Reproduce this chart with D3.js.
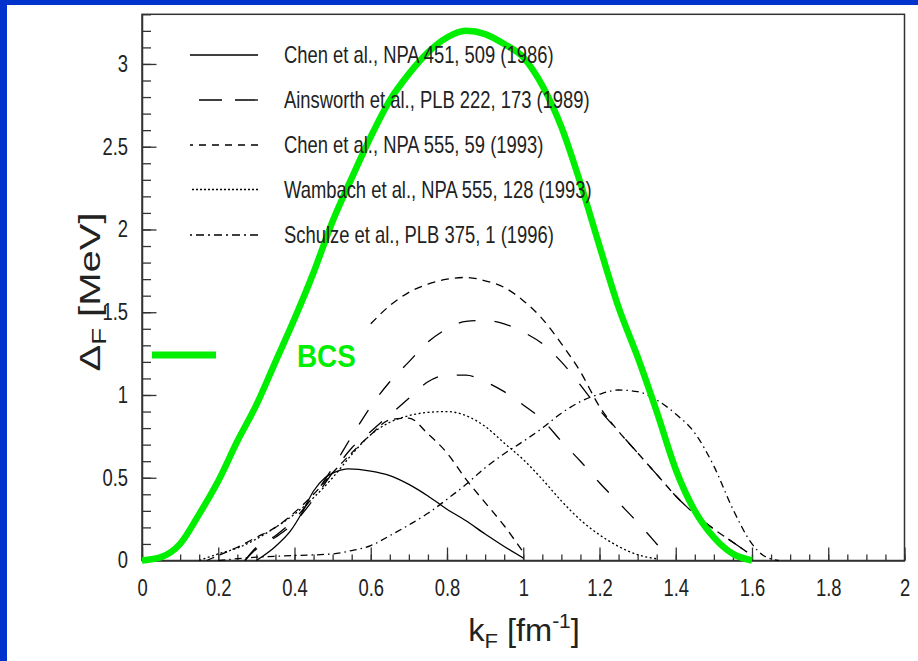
<!DOCTYPE html>
<html><head><meta charset="utf-8">
<script src="https://cdn.jsdelivr.net/npm/d3@7"></script>
<style>html,body{margin:0;padding:0;background:#fff;overflow:hidden}</style>
</head><body><svg id="c" width="918" height="661"></svg>
<script>
// ---- data ----
const xTickValues = [0,0.2,0.4,0.6,0.8,1,1.2,1.4,1.6,1.8,2];
const xTickLabels = ["0","0.2","0.4","0.6","0.8","1","1.2","1.4","1.6","1.8","2"];
const yTickValues = [0,0.5,1,1.5,2,2.5,3];
const yTickLabels = ["0","0.5","1","1.5","2","2.5","3"];
const legendLabels = [
  "Chen et al., NPA 451, 509 (1986)",
  "Ainsworth et al., PLB 222, 173 (1989)",
  "Chen et al., NPA 555, 59 (1993)",
  "Wambach et al., NPA 555, 128 (1993)",
  "Schulze et al., PLB 375, 1 (1996)"
];
const bcsLabel = "BCS";

const bcsK = [0,0.05,0.1,0.15,0.2,0.25,0.3,0.35,0.4,0.45,0.5,0.55,0.6,0.65,0.7,0.75,0.8,0.85,0.9,0.95,1.0,1.05,1.1,1.15,1.2,1.25,1.3,1.35,1.4,1.45,1.5,1.55,1.6];
const bcsD = [0,0.02,0.1,0.28,0.48,0.72,0.94,1.2,1.46,1.74,2.05,2.31,2.56,2.78,2.94,3.07,3.16,3.2,3.18,3.12,3.04,2.87,2.62,2.28,1.9,1.53,1.23,0.9,0.55,0.3,0.14,0.04,0];

const chen86K = [0.30,0.35,0.39,0.42,0.45,0.48,0.51,0.54,0.6,0.65,0.7,0.75,0.8,0.85,0.9,0.95,1.0];
const chen86D = [0,0.085,0.18,0.29,0.42,0.5,0.537,0.553,0.54,0.513,0.46,0.39,0.31,0.24,0.16,0.085,0.015];

const ainsAK = [0.27,0.3,0.35,0.4,0.45,0.5,0.55,0.6,0.65,0.7,0.75,0.8,0.85,0.9,0.95,1.0,1.05,1.1,1.15,1.2,1.25,1.3,1.35,1.4,1.45,1.5,1.55,1.6];
const ainsAD = [0,0.08,0.15,0.25,0.39,0.56,0.75,0.93,1.08,1.2,1.32,1.40,1.445,1.45,1.43,1.38,1.31,1.2,1.06,0.91,0.78,0.65,0.52,0.39,0.28,0.19,0.11,0.03];

const ainsBK = [0.27,0.3,0.35,0.4,0.45,0.5,0.55,0.6,0.65,0.7,0.75,0.8,0.85,0.9,0.95,1.0,1.05,1.1,1.15,1.2,1.25,1.3,1.35,1.38];
const ainsBD = [0,0.07,0.14,0.23,0.37,0.53,0.68,0.78,0.88,0.98,1.08,1.12,1.12,1.08,1.02,0.94,0.85,0.72,0.6,0.47,0.35,0.23,0.1,0.02];

const chen93AK = [0.6,0.65,0.7,0.75,0.8,0.85,0.9,0.95,1.0,1.05,1.1,1.15,1.2,1.25,1.3,1.35,1.4,1.45,1.5,1.55,1.6];
const chen93AD = [1.43,1.54,1.62,1.67,1.70,1.71,1.69,1.65,1.57,1.46,1.31,1.14,0.93,0.78,0.65,0.52,0.39,0.28,0.19,0.11,0.03];

const chen93BK = [0.17,0.2,0.25,0.3,0.35,0.4,0.45,0.5,0.55,0.6,0.65,0.7,0.75,0.8,0.85,0.9,0.95,1.0];
const chen93BD = [0,0.03,0.08,0.14,0.2,0.29,0.4,0.53,0.65,0.76,0.85,0.86,0.765,0.65,0.49,0.35,0.21,0.05];

const wambK = [0.15,0.2,0.25,0.3,0.35,0.4,0.45,0.5,0.55,0.6,0.65,0.7,0.75,0.8,0.85,0.9,0.95,1.0,1.05,1.1,1.15,1.2,1.25,1.3,1.35];
const wambD = [0,0.04,0.075,0.13,0.2,0.28,0.38,0.5,0.64,0.76,0.835,0.875,0.895,0.9,0.875,0.81,0.71,0.61,0.49,0.36,0.245,0.155,0.085,0.035,0.01];

const schK = [0.2,0.3,0.4,0.5,0.55,0.6,0.65,0.7,0.75,0.8,0.85,0.9,0.95,1.0,1.05,1.1,1.15,1.2,1.25,1.3,1.35,1.4,1.45,1.5,1.55,1.6,1.63,1.67];
const schD = [0,0.02,0.03,0.04,0.06,0.09,0.15,0.215,0.285,0.37,0.46,0.56,0.645,0.72,0.8,0.89,0.96,1.005,1.03,1.02,0.97,0.885,0.77,0.57,0.31,0.1,0.03,0];

// ---- styles ----
const BLUE = "#0033cc", GREEN = "#00ee00", INK = "#222", AX = "#333";
const FONT = "'Liberation Sans', Arial, Helvetica, sans-serif";
const NARROW = 0.8;

const svg = d3.select("#c");
svg.append("rect").attr("x",0).attr("y",0).attr("width",918).attr("height",661).attr("fill","#fff");
svg.append("rect").attr("x",0).attr("y",0).attr("width",918).attr("height",5).attr("fill",BLUE);
svg.append("rect").attr("x",0).attr("y",0).attr("width",7).attr("height",661).attr("fill",BLUE);

const x = d3.scaleLinear().domain([0,2]).range([142,904.5]);
const y = d3.scaleLinear().domain([0,3.3]).range([560.5,14.3]);

// frame
svg.append("rect").attr("x",x(0)).attr("y",y(3.3)).attr("width",x(2)-x(0)).attr("height",y(0)-y(3.3))
  .attr("fill","none").attr("stroke",AX).attr("stroke-width",1.5);

// minor ticks
const xMinor = d3.range(0,2.0001,0.05).map(v=>+v.toFixed(2));
const yMinor = d3.range(0,3.3001,0.1).map(v=>+v.toFixed(2));
svg.append("g").attr("transform",`translate(0,${y(0)})`)
  .call(d3.axisBottom(x).tickValues(xMinor).tickSizeInner(-6).tickSizeOuter(0).tickFormat(""))
  .call(g=>{g.select(".domain").remove(); g.selectAll("line").attr("stroke",AX).attr("stroke-width",1.3);});
svg.append("g").attr("transform",`translate(${x(0)},0)`)
  .call(d3.axisLeft(y).tickValues(yMinor).tickSizeInner(-9).tickSizeOuter(0).tickFormat(""))
  .call(g=>{g.select(".domain").remove(); g.selectAll("line").attr("stroke",AX).attr("stroke-width",1.3);});

// major axes
const gx = svg.append("g").attr("transform",`translate(0,${y(0)})`)
  .call(d3.axisBottom(x).tickValues(xTickValues).tickSizeInner(-13).tickSizeOuter(0).tickPadding(19)
    .tickFormat((d,i)=>xTickLabels[i]));
gx.select(".domain").attr("stroke",AX).attr("stroke-width",1.5);
gx.selectAll("line").attr("stroke",AX).attr("stroke-width",1.3);
gx.selectAll("text").attr("font-family",FONT).attr("font-size",23).attr("fill",INK)
  .attr("transform",`scale(${NARROW},1)`);

const gy = svg.append("g").attr("transform",`translate(${x(0)},0)`)
  .call(d3.axisLeft(y).tickValues(yTickValues).tickSizeInner(-14.5).tickSizeOuter(0).tickPadding(14/NARROW)
    .tickFormat((d,i)=>yTickLabels[i]));
gy.select(".domain").attr("stroke",AX).attr("stroke-width",1.5);
gy.selectAll("line").attr("stroke",AX).attr("stroke-width",1.3);
gy.selectAll("text").attr("font-family",FONT).attr("font-size",23).attr("fill",INK)
  .attr("transform",`scale(${NARROW},1)`);

// axis titles
const xt = svg.append("text").attr("transform","translate(524,641) scale(1.05,1)").attr("text-anchor","middle")
  .attr("font-family",FONT).attr("font-size",31).attr("fill",INK);
xt.append("tspan").text("k");
xt.append("tspan").attr("font-size",21).attr("dy",7).text("F");
xt.append("tspan").attr("dy",-7).text(" [fm");
xt.append("tspan").attr("font-size",20).attr("dy",-13).text("-1");
xt.append("tspan").attr("dy",13).text("]");

const yt = svg.append("text").attr("transform","translate(100,292) rotate(-90) scale(1.38,1)").attr("text-anchor","middle")
  .attr("font-family",FONT).attr("font-size",29).attr("fill",INK);
yt.append("tspan").text("\u0394");
yt.append("tspan").attr("font-size",20).attr("dy",6).text("F");
yt.append("tspan").attr("dy",-6).text(" [MeV]");

// curves
const line = d3.line().x(d=>x(d[0])).y(d=>y(d[1])).curve(d3.curveMonotoneX);
const zip = (k,d)=>k.map((v,i)=>[v,d[i]]);
const black = [
  {k:chen86K, d:chen86D, dash:null},
  {k:ainsAK, d:ainsAD, dash:"17,19"},
  {k:ainsBK, d:ainsBD, dash:"17,19"},
  {k:chen93AK, d:chen93AD, dash:"8,6"},
  {k:chen93BK, d:chen93BD, dash:"8,6"},
  {k:wambK, d:wambD, dash:"2,2.5"},
  {k:schK, d:schD, dash:"7,4,1.5,4"}
];
const legDash = [null,"23,13","7,6","2,2","8,4,2,4"];
black.forEach(s=>{
  svg.append("path").attr("d",line(zip(s.k,s.d))).attr("fill","none").attr("stroke","#000")
    .attr("stroke-width",1.3).attr("stroke-dasharray",s.dash);
});

svg.append("path").attr("d",line(zip(bcsK,bcsD))).attr("fill","none").attr("stroke",GREEN)
  .attr("stroke-width",6.5).attr("stroke-linecap","butt");

// legend
const legY = [55,100,145,189.5,235];
legendLabels.forEach((t,i)=>{
  svg.append("line").attr("x1",258).attr("x2",190).attr("y1",legY[i]).attr("y2",legY[i])
    .attr("stroke","#000").attr("stroke-width",1.3).attr("stroke-dasharray",legDash[i]);
  svg.append("text").attr("transform",`translate(284,${legY[i]+8.3}) scale(${NARROW},1)`)
    .attr("font-family",FONT).attr("font-size",23).attr("fill",INK).text(t);
});

// BCS legend
svg.append("line").attr("x1",152).attr("x2",216).attr("y1",355).attr("y2",355)
  .attr("stroke",GREEN).attr("stroke-width",7);
svg.append("text").attr("transform","translate(297,366.7) scale(0.87,1)")
  .attr("font-family",FONT).attr("font-weight","bold").attr("font-size",32).attr("fill",GREEN).text(bcsLabel);
</script></body></html>
